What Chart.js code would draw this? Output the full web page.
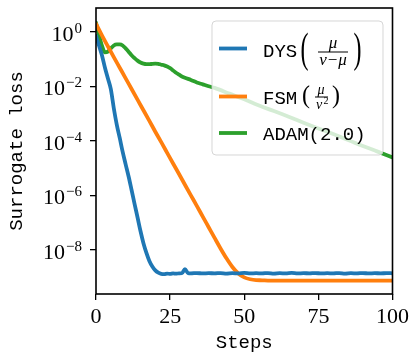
<!DOCTYPE html>
<html>
<head>
<meta charset="utf-8">
<script src="https://cdn.jsdelivr.net/npm/chart.js@4.4.0/dist/chart.umd.min.js"></script>
<style>
body{margin:0;background:#fff;}
canvas{display:block;}
</style>
</head>
<body>
<canvas id="lossChart" width="413" height="355"></canvas>
<script>
// values (log scale)
const blueSteps = [0,1,2,3,4,5,6,7,8,9,10,11,12,13,14,15,16,17,18,19,20,21,22,23,24,25,26,27,28,29,30,31,32,34,36,38,40,42,44,46,48,50,52,54,56,58,60,62,64,66,68,70,72,74,76,78,80,82,84,86,88,90,92,94,96,98,100];
const blueLoss = [0.71,0.32,0.14,0.05,0.02,0.008,1.6e-3,4e-4,1.3e-4,4e-5,1.4e-5,5e-6,1.6e-6,5e-7,1.6e-7,5e-8,1.8e-8,7.9e-9,4e-9,2.5e-9,1.8e-9,1.48e-9,1.35e-9,1.32e-9,1.38e-9,1.33e-9,1.40e-9,1.36e-9,1.41e-9,1.42e-9,2.0e-9,1.45e-9,1.40e-9,1.44e-9,1.39e-9,1.43e-9,1.40e-9,1.44e-9,1.38e-9,1.42e-9,1.40e-9,1.45e-9,1.39e-9,1.42e-9,1.40e-9,1.44e-9,1.38e-9,1.42e-9,1.40e-9,1.45e-9,1.39e-9,1.43e-9,1.40e-9,1.44e-9,1.39e-9,1.42e-9,1.40e-9,1.44e-9,1.38e-9,1.42e-9,1.40e-9,1.44e-9,1.39e-9,1.43e-9,1.40e-9,1.43e-9,1.41e-9];
const orangeSteps = [0,2,4,6,8,10,12,14,16,18,20,22,24,26,28,30,32,34,36,38,40,42,44,46,48,50,52,54,56,58,65,70,80,90,100];
const orangeLoss = [2.0,0.76,0.3,0.12,0.049,0.02,8.1e-3,3.3e-3,1.35e-3,5.5e-4,2.2e-4,9.1e-5,3.7e-5,1.5e-5,6.2e-6,2.5e-6,1.02e-6,4.2e-7,1.7e-7,6.9e-8,2.8e-8,1.15e-8,5e-9,2.4e-9,1.38e-9,1.0e-9,8.5e-10,7.9e-10,7.8e-10,7.6e-10,7.6e-10,7.6e-10,7.6e-10,7.6e-10,7.6e-10];
const greenSteps = [0,1,2,3,4,5,6,7,8,9,10,11,12,13,14,15,16,17,18,19,20,21,22,23,24,25,26,27,28,29,30,32,34,36,38,40,45,50,55,60,65,70,75,80,85,90,95,100];
const greenLoss = [2.2,0.79,0.32,0.18,0.19,0.25,0.32,0.35,0.35,0.32,0.25,0.19,0.14,0.11,0.089,0.076,0.069,0.066,0.066,0.068,0.069,0.068,0.063,0.060,0.054,0.047,0.039,0.032,0.0275,0.0234,0.021,0.0174,0.0141,0.012,0.0102,0.0089,5.5e-3,3.4e-3,2.0e-3,1.26e-3,7.8e-4,4.7e-4,2.9e-4,1.8e-4,1.1e-4,6.6e-5,4.1e-5,2.5e-5];

const xTicks = [0,25,50,75,100];
const yTickExponents = [0,-2,-4,-6,-8];
const seriesNames = ['DYS','FSM','ADAM(2.0)'];
const seriesColors = ['#1f77b4','#ff7f0e','#2ca02c'];

const serif = '"Liberation Serif", "DejaVu Serif", serif';
const mono = '"Liberation Mono", "DejaVu Sans Mono", monospace';

function toPoints(steps, loss){
    return steps.map((s, i) => ({x: s, y: loss[i]}));
}

// paren stretched vertically so it spans the fraction
function bigParen(ctx, ch, x, y, sy){
    ctx.save();
    ctx.translate(x, y);
    ctx.scale(1, sy);
    ctx.font = '24px ' + serif;
    ctx.textAlign = 'left';
    ctx.textBaseline = 'middle';
    ctx.fillText(ch, 0, 0);
    ctx.restore();
}

// frame + y tick labels (10^e) + legend with fractions
const decorPlugin = {
    id: 'decor',
    afterDraw(chart) {
        const ctx = chart.ctx;
        const a = chart.chartArea;
        const ys = chart.scales.y;
        ctx.save();

        // spines
        ctx.strokeStyle = '#000';
        ctx.lineWidth = 1.6;
        ctx.strokeRect(a.left, a.top, a.right - a.left, a.bottom - a.top);

        // y tick labels
        ctx.fillStyle = '#000';
        ctx.textBaseline = 'alphabetic';
        ctx.textAlign = 'left';
        yTickExponents.forEach(e => {
            const py = ys.getPixelForValue(Math.pow(10, e));
            const exp = e === 0 ? '0' : '\u2212' + Math.abs(e);
            ctx.font = '22px ' + serif;
            const wb = ctx.measureText('10').width;
            ctx.font = '15px ' + serif;
            const we = ctx.measureText(exp).width;
            const x0 = 82 - wb - we - 1;
            ctx.font = '22px ' + serif;
            ctx.fillText('10', x0, py + 8.5);
            ctx.font = '15px ' + serif;
            ctx.fillText(exp, x0 + wb + 1, py + 0.5);
        });

        // legend box
        ctx.beginPath();
        ctx.roundRect(212, 21, 171, 134, 4);
        ctx.fillStyle = 'rgba(255,255,255,0.8)';
        ctx.fill();
        ctx.strokeStyle = 'rgba(204,204,204,0.8)';
        ctx.lineWidth = 1;
        ctx.stroke();

        const rowY = [48.5, 96.5, 133];
        const baseY = [57, 103.5, 140];
        ctx.lineWidth = 3.8;
        seriesColors.forEach((c, i) => {
            ctx.strokeStyle = c;
            ctx.beginPath();
            ctx.moveTo(219, rowY[i]);
            ctx.lineTo(247, rowY[i]);
            ctx.stroke();
        });

        ctx.fillStyle = '#000';
        ctx.font = '19px ' + mono;
        seriesNames.forEach((n, i) => ctx.fillText(n, 263, baseY[i]));

        // DYS( mu / (nu - mu) )
        bigParen(ctx, '(', 300.5, 51, 1.75);
        bigParen(ctx, ')', 353.5, 51, 1.75);
        ctx.textBaseline = 'middle';
        ctx.textAlign = 'center';
        ctx.font = 'italic 17px ' + serif;
        ctx.fillText('\u03bc', 333, 44);
        ctx.fillText('\u03bd\u2212\u03bc', 333, 60.5);
        ctx.fillRect(318, 51.5, 30, 1);

        // FSM( mu / nu^2 )
        bigParen(ctx, '(', 302, 96.5, 1.05);
        bigParen(ctx, ')', 332, 96.5, 1.05);
        ctx.textAlign = 'center';
        ctx.font = 'italic 14px ' + serif;
        ctx.fillText('\u03bc', 321, 90);
        ctx.fillText('\u03bd', 319, 105);
        ctx.font = '10px ' + serif;
        ctx.fillText('2', 326, 101.5);
        ctx.fillRect(315, 96.5, 13, 1);

        ctx.restore();
    }
};

const ctx = document.getElementById('lossChart').getContext('2d');
new Chart(ctx, {
    type: 'line',
    data: {
        datasets: [
            {label: seriesNames[0], data: toPoints(blueSteps, blueLoss), borderColor: seriesColors[0]},
            {label: seriesNames[1], data: toPoints(orangeSteps, orangeLoss), borderColor: seriesColors[1]},
            {label: seriesNames[2], data: toPoints(greenSteps, greenLoss), borderColor: seriesColors[2]}
        ]
    },
    options: {
        responsive: false,
        animation: false,
        devicePixelRatio: 1,
        layout: {padding: {left: 0, right: 18, top: 8, bottom: 0}},
        elements: {
            point: {radius: 0},
            line: {borderWidth: 3.8, cubicInterpolationMode: 'monotone', borderCapStyle: 'round'}
        },
        plugins: {legend: {display: false}, tooltip: {enabled: false}},
        scales: {
            x: {
                type: 'linear',
                min: 0,
                max: 100,
                afterFit: s => { s.height = 61; },
                afterBuildTicks: s => { s.ticks = xTicks.map(v => ({value: v})); },
                border: {display: false},
                grid: {drawOnChartArea: false, drawTicks: true, tickLength: 6, color: '#000', lineWidth: 1.3},
                ticks: {color: '#000', font: {family: serif, size: 22}, padding: 4, maxRotation: 0},
                title: {display: true, text: 'Steps', color: '#000', font: {family: mono, size: 19}, padding: {top: 0, bottom: 1}}
            },
            y: {
                type: 'logarithmic',
                min: 2.45e-10,
                max: 7.6,
                afterFit: s => { s.width = 96; },
                afterBuildTicks: s => { s.ticks = yTickExponents.map(e => ({value: Math.pow(10, e)})); },
                border: {display: false},
                grid: {drawOnChartArea: false, drawTicks: true, tickLength: 6, color: '#000', lineWidth: 1.3},
                ticks: {callback: () => '', padding: 0},
                title: {display: true, text: 'Surrogate loss', color: '#000', font: {family: mono, size: 19}, padding: {top: 6, bottom: 0}}
            }
        }
    },
    plugins: [decorPlugin]
});
</script>
</body>
</html>
